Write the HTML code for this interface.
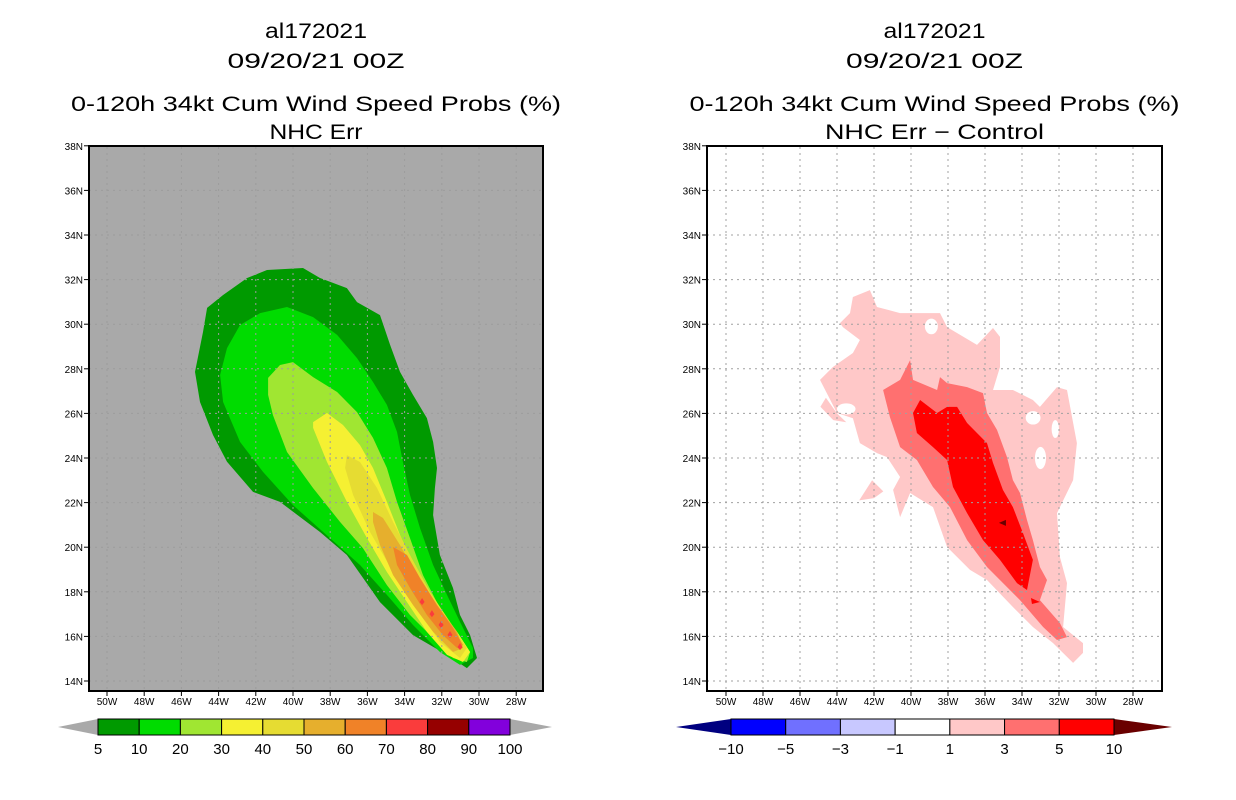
<!DOCTYPE html>
<html><head><meta charset="utf-8"><style>
body{margin:0;background:#fff;width:1236px;height:800px;overflow:hidden}
svg{display:block}
text{font-family:"Liberation Sans",sans-serif;fill:#000}
</style></head><body>
<svg id="s" width="1236" height="800" xmlns="http://www.w3.org/2000/svg"></svg>
<script>
// ---- data ----
const lonTicks=[50,48,46,44,42,40,38,36,34,32,30,28];
const latTicks=[14,16,18,20,22,24,26,28,30,32,34,36,38];
const leftLevels=[5,10,20,30,40,50,60,70,80,90,100];
const leftColors=["#009a00","#00dc00","#a0e632","#f5f032","#e6dc32","#e6af2d","#f08228","#fa3c3c","#960000","#8200dc"];
const rightLevels=[-10,-5,-3,-1,1,3,5,10];
const rightColors=["#0000ff","#7070ff","#c8c8ff","#ffffff","#ffc8c8","#ff7070","#ff0000"];
// contour polygons [lonW, latN]
const c5=[[42.47,32.07],[41.40,32.43],[39.46,32.52],[38.55,32.07],[37.10,31.62],[36.56,30.99],[35.32,30.41],[34.78,29.07],[34.25,27.86],[33.55,26.83],[32.80,25.79],[32.47,24.72],[32.26,23.55],[32.37,22.65],[32.47,21.44],[32.10,19.65],[31.40,18.17],[31.02,16.96],[30.48,16.06],[30.11,15.03],[30.65,14.58],[31.72,15.17],[33.55,16.06],[35.32,17.54],[37.10,19.65],[38.55,20.68],[40.70,22.03],[42.15,22.48],[43.55,23.83],[44.30,25.03],[45.00,26.51],[45.27,27.86],[44.84,29.65],[44.62,30.73],[43.76,31.31]];
const c10=[[42.85,29.96],[41.77,30.50],[40.32,30.77],[38.92,30.32],[37.63,29.52],[36.56,28.48],[35.70,27.41],[34.95,26.38],[34.41,25.17],[34.09,23.82],[33.71,22.34],[33.17,20.86],[32.47,19.20],[31.72,17.86],[31.02,16.65],[30.32,15.48],[30.32,15.03],[31.02,14.72],[32.10,15.30],[33.55,16.51],[34.95,17.86],[36.40,19.20],[38.01,20.41],[40.00,21.89],[41.61,23.37],[42.85,24.72],[43.76,26.51],[43.92,27.72],[43.55,28.93]];
const c20=[[41.34,27.59],[40.70,28.17],[40.00,28.30],[38.92,27.63],[37.63,26.96],[36.56,26.06],[35.70,24.90],[34.95,23.55],[34.41,22.03],[33.71,20.41],[33.01,18.75],[32.10,17.27],[31.18,16.20],[30.48,15.30],[30.65,14.85],[31.40,15.03],[32.47,15.93],[33.71,16.96],[34.95,18.30],[36.24,19.96],[37.47,21.13],[38.92,22.65],[40.32,24.27],[41.08,25.93],[41.34,26.83]];
const c30=[[38.92,25.61],[38.17,26.02],[37.31,25.48],[36.40,24.58],[35.70,23.55],[34.95,22.03],[34.25,20.55],[33.33,18.89],[32.26,17.41],[31.18,16.20],[30.48,15.30],[30.86,14.85],[31.72,15.17],[32.80,16.20],[33.87,17.54],[34.95,18.89],[36.02,20.41],[37.10,22.03],[38.17,23.82],[38.92,25.35]];
const c40=[[37.10,24.13],[36.40,23.82],[35.48,22.65],[34.62,21.13],[33.71,19.65],[32.63,17.99],[31.56,16.65],[30.65,15.48],[31.02,15.03],[32.10,15.75],[33.33,17.27],[34.62,18.89],[35.86,20.68],[36.77,22.34],[37.20,23.55]];
const c50=[[35.70,21.58],[35.16,21.31],[34.25,20.10],[33.33,18.75],[32.26,17.41],[31.18,16.20],[30.86,15.48],[31.40,15.30],[32.47,16.20],[33.55,17.41],[34.62,18.75],[35.32,20.10],[35.70,21.13]];
const c60=[[34.62,20.01],[33.87,19.65],[33.17,18.62],[32.26,17.41],[31.40,16.38],[30.86,15.61],[31.18,15.48],[31.94,16.06],[32.80,16.96],[33.71,18.17],[34.41,19.20]];
const c70pts=[[33.06,17.54],[32.53,17.00],[32.04,16.51],[31.56,16.06],[31.02,15.52]];
const d1=[[43.14,31.22],[42.22,31.53],[41.84,30.77],[40.59,30.50],[38.43,30.50],[38.05,29.87],[36.43,29.07],[35.57,29.83],[35.19,29.43],[35.19,28.08],[35.57,27.05],[34.49,27.05],[33.41,26.60],[33.03,26.29],[32.11,27.18],[31.57,27.05],[31.03,24.67],[31.24,23.01],[32.11,21.53],[31.95,19.56],[31.57,18.39],[31.78,16.42],[30.70,15.70],[30.70,15.26],[31.24,14.81],[32.32,15.70],[33.41,16.42],[34.49,17.32],[35.89,18.53],[36.81,18.98],[38.05,20.01],[38.81,21.80],[40.05,22.43],[40.59,21.35],[40.97,22.57],[40.59,23.15],[41.30,24.04],[41.84,24.22],[42.76,24.67],[43.14,25.78],[44.00,26.02],[44.92,27.50],[44.22,28.08],[43.14,28.71],[42.76,29.29],[43.68,29.87],[43.84,30.05],[43.30,30.50]];
const d1b=[[44.9,26.3],[44.6,26.7],[44.0,26.0],[43.5,25.6],[44.2,25.7]];
const d1c=[[42.8,22.1],[42.1,23.0],[41.5,22.5],[42.0,22.2]];
const d1holes=[[38.9,29.9,0.35,0.35],[33.4,25.8,0.4,0.3],[33.0,24.0,0.3,0.5],[32.2,25.3,0.2,0.4],[43.5,26.2,0.5,0.25]];
const d3=[[41.51,27.05],[40.59,27.50],[40.05,28.39],[39.89,27.50],[38.59,27.05],[38.43,27.63],[38.05,27.36],[36.97,27.18],[36.11,26.91],[35.89,26.02],[35.35,25.26],[34.81,24.04],[34.49,23.01],[34.11,22.43],[33.73,21.22],[33.41,20.32],[33.03,19.11],[32.65,18.53],[33.03,17.63],[31.95,16.60],[31.57,15.97],[32.11,15.84],[32.86,16.42],[34.11,17.63],[35.89,19.11],[36.97,20.32],[37.89,21.80],[38.81,22.70],[39.68,23.91],[40.59,24.49],[41.14,25.84]];
const d5=[[39.89,26.02],[39.51,26.60],[38.59,26.02],[38.05,26.29],[37.51,26.29],[36.97,25.57],[35.89,24.67],[35.57,23.78],[35.03,22.57],[34.49,21.80],[33.95,20.64],[33.41,19.43],[33.73,18.08],[34.27,18.39],[35.19,19.43],[36.11,20.32],[36.97,21.53],[37.73,22.70],[38.05,23.91],[38.81,24.49],[39.68,25.12]];
const d10pts=[[35.03,21.09]];
const d5pts=[[33.30,17.59]];

const S=document.getElementById('s');const NS="http://www.w3.org/2000/svg";
function mk(t,a,p){const e=document.createElementNS(NS,t);for(const k in a)e.setAttribute(k,a[k]);(p||S).appendChild(e);return e;}
function panel(x0,kx){return{X:l=>x0+(50-l)*kx,Y:l=>681-(l-14)*22.3};}
const L=panel(107,18.6),R=panel(726,18.5);
function poly(P,pts,fill,name){const e=mk('polygon',{points:pts.map(p=>P.X(p[0]).toFixed(1)+','+P.Y(p[1]).toFixed(1)).join(' '),fill:fill});

return e;}
function text(x,y,s,size,len,name,anchor){const e=mk('text',{x:x,y:y,'font-size':size,'text-anchor':anchor||'middle'});if(len){e.setAttribute('textLength',len);e.setAttribute('lengthAdjust','spacingAndGlyphs');}e.textContent=s;

return e;}

function frame(P,fx0,fx1,bg,side,t4){
  const cx=(fx0+fx1)/2;
  text(cx-0,38,"al172021",21,102,side+'-title-storm');
  text(cx,68,"09/20/21 00Z",21,177,side+'-title-date');
  text(cx,111,"0-120h 34kt Cum Wind Speed Probs (%)",21,490,side+'-title-product');
  text(cx,139,t4,21,t4.length>8?219:93,side+'-title-subtitle');
  const r=mk('rect',{x:fx0,y:146,width:fx1-fx0,height:545,fill:bg});
  
  
}
function gridAxes(P,fx0,fx1,side,gc){
  const g=mk('g',{stroke:gc,'stroke-width':1,'stroke-dasharray':'2,4'});
  
  
  lonTicks.forEach(l=>mk('line',{x1:P.X(l),x2:P.X(l),y1:147,y2:690},g));
  latTicks.forEach(l=>mk('line',{x1:fx0,x2:fx1,y1:P.Y(l),y2:P.Y(l)},g));
  const b=mk('rect',{x:fx0,y:146,width:fx1-fx0,height:545,fill:'none',stroke:'#000','stroke-width':2});
  
  
  lonTicks.forEach(l=>{mk('line',{x1:P.X(l),x2:P.X(l),y1:691,y2:696,stroke:'#000'});text(P.X(l),705,l+'W',10,null,side+'-x-tick-label');});
  latTicks.forEach(l=>{mk('line',{x1:fx0-5,x2:fx0,y1:P.Y(l),y2:P.Y(l),stroke:'#000'});text(fx0-6,P.Y(l)+4,l+'N',10,null,side+'-y-tick-label','end');});
}
function colorbar(x0,x1,t0,t1,cols,levels,lt,rt,side){
  const n=cols.length,w=(x1-x0)/n,y0=719,y1=735;
  const a=mk('polygon',{points:`${t0},727 ${x0},${y0} ${x0},${y1}`,fill:lt});
  
  
  const b=mk('polygon',{points:`${t1},727 ${x1},${y0} ${x1},${y1}`,fill:rt});
  
  
  cols.forEach((c,i)=>{const r=mk('rect',{x:x0+i*w,y:y0,width:w,height:y1-y0,fill:c,stroke:'#000','stroke-width':1});
    
    });
  levels.forEach((v,i)=>text(x0+i*w,754,String(v).replace('-','\u2212'),15,null,side+'-colorbar-label'));
}
// left panel
frame(L,89,543,'#a9a9a9','left',"NHC Err");
[[c5,0,'contour-5'],[c10,1,'contour-10'],[c20,2,'contour-20'],[c30,3,'contour-30'],[c40,4,'contour-40'],[c50,5,'contour-50'],[c60,6,'contour-60']].forEach(d=>poly(L,d[0],leftColors[d[1]],d[2]));
c70pts.forEach(p=>{const e=mk('polygon',{points:`${L.X(p[0])},${L.Y(p[1])-4} ${L.X(p[0])+2.5},${L.Y(p[1])} ${L.X(p[0])},${L.Y(p[1])+3} ${L.X(p[0])-2.5},${L.Y(p[1])}`,fill:leftColors[7]});

});
gridAxes(L,89,543,'left','#9c9c9c');
colorbar(98,510,58,552,leftColors,leftLevels,'#a9a9a9','#a9a9a9','left');
// right panel
frame(R,707,1162,'#ffffff','right',"NHC Err \u2212 Control");
poly(R,d1,rightColors[4],'diff-1-3');poly(R,d1b,rightColors[4],'diff-1-3-patch');poly(R,d1c,rightColors[4],'diff-1-3-patch');
d1holes.forEach(h=>{const e=mk('ellipse',{cx:R.X(h[0]),cy:R.Y(h[1]),rx:h[2]*18.5,ry:h[3]*22.3,fill:'#fff'});

});
poly(R,d3,rightColors[5],'diff-3-5');poly(R,d5,rightColors[6],'diff-5-10');
d10pts.forEach(p=>{const e=mk('polygon',{points:`${R.X(p[0])-4},${R.Y(p[1])} ${R.X(p[0])+3},${R.Y(p[1])-3} ${R.X(p[0])+3},${R.Y(p[1])+3}`,fill:'#6a0000'});

});
d5pts.forEach(p=>{const e=mk('polygon',{points:`${R.X(p[0])-4},${R.Y(p[1])-3} ${R.X(p[0])+5},${R.Y(p[1])+1} ${R.X(p[0])-3},${R.Y(p[1])+3}`,fill:'#ff0000'});

});
gridAxes(R,707,1162,'right','#a0a0a0');
colorbar(731,1114,676,1172,rightColors,rightLevels,'#000080','#6a0000','right');
</script>
</body></html>
